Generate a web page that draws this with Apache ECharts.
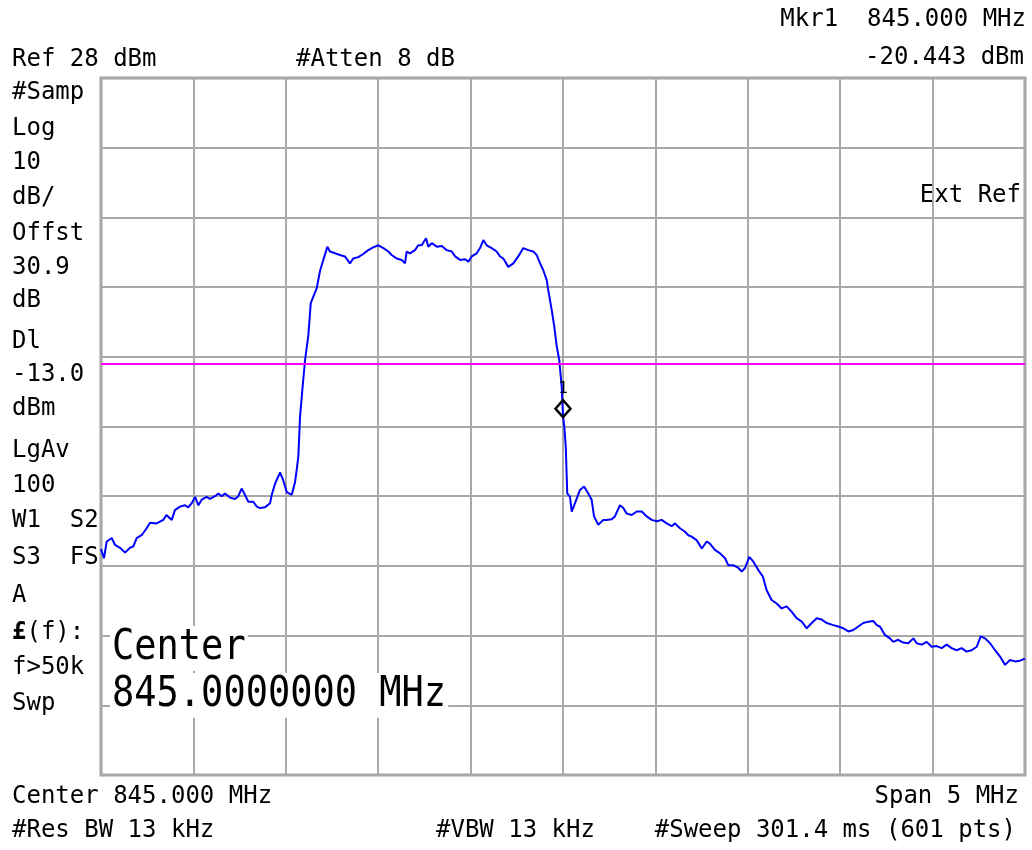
<!DOCTYPE html>
<html>
<head>
<meta charset="utf-8">
<title>Spectrum 845 MHz</title>
<script src="https://cdn.jsdelivr.net/npm/echarts@6/dist/echarts.min.js"></script>
<style>
  html, body { margin: 0; background: #fff; }
  #chart { width: 1032px; height: 850px; }
</style>
</head>
<body>
<div id="chart"></div>
<script>
// trace (MHz, dBm)
const freqMHz = [
  842.500, 842.516, 842.531, 842.558, 842.576, 842.603, 842.630, 842.657, 842.675, 842.693,
  842.720, 842.747, 842.765, 842.801, 842.837, 842.854, 842.883, 842.900, 842.927, 842.955,
  842.972, 842.991, 843.009, 843.027, 843.045, 843.072, 843.090, 843.117, 843.135, 843.153,
  843.171, 843.198, 843.225, 843.243, 843.261, 843.279, 843.297, 843.324, 843.343, 843.360,
  843.387, 843.415, 843.424, 843.442, 843.469, 843.486, 843.505, 843.532, 843.550, 843.559,
  843.568, 843.577, 843.591, 843.604, 843.622, 843.635, 843.667, 843.685, 843.703, 843.725,
  843.739, 843.766, 843.793, 843.820, 843.847, 843.865, 843.892, 843.919, 843.946, 843.973,
  844.001, 844.028, 844.055, 844.073, 844.100, 844.127, 844.145, 844.154, 844.172, 844.199,
  844.217, 844.235, 844.259, 844.271, 844.290, 844.317, 844.344, 844.371, 844.398, 844.416,
  844.443, 844.470, 844.488, 844.506, 844.533, 844.551, 844.569, 844.587, 844.614, 844.641,
  844.659, 844.677, 844.704, 844.731, 844.758, 844.785, 844.812, 844.839, 844.858, 844.876,
  844.893, 844.912, 844.920, 844.939, 844.953, 844.966, 844.980, 844.993, 845.000, 845.007,
  845.015, 845.023, 845.038, 845.047, 845.065, 845.092, 845.114, 845.137, 845.155, 845.168,
  845.191, 845.218, 845.236, 845.263, 845.281, 845.308, 845.326, 845.345, 845.372, 845.399,
  845.426, 845.453, 845.480, 845.507, 845.534, 845.561, 845.588, 845.606, 845.633, 845.660,
  845.678, 845.696, 845.723, 845.751, 845.778, 845.795, 845.822, 845.850, 845.877, 845.894,
  845.921, 845.949, 845.967, 845.985, 846.008, 846.030, 846.057, 846.081, 846.102, 846.129,
  846.156, 846.183, 846.210, 846.238, 846.264, 846.292, 846.319, 846.346, 846.373, 846.400,
  846.427, 846.463, 846.490, 846.517, 846.544, 846.571, 846.598, 846.625, 846.652, 846.679,
  846.698, 846.715, 846.742, 846.769, 846.787, 846.814, 846.841, 846.868, 846.896, 846.914,
  846.941, 846.968, 846.995, 847.022, 847.049, 847.076, 847.103, 847.130, 847.157, 847.184,
  847.211, 847.239, 847.260, 847.284, 847.311, 847.338, 847.365, 847.392, 847.419, 847.446,
  847.473, 847.500
]
const levelDbm = [
  -39.6, -40.9, -38.5, -38.0, -39.0, -39.4, -40.1, -39.4, -39.2, -38.0,
  -37.6, -36.6, -35.8, -35.9, -35.4, -34.7, -35.4, -34.0, -33.5, -33.3,
  -33.6, -33.0, -32.1, -33.3, -32.5, -32.1, -32.4, -32.0, -31.6, -32.0,
  -31.6, -32.2, -32.4, -32.0, -30.9, -31.8, -32.8, -32.8, -33.5, -33.7,
  -33.6, -33.0, -31.8, -30.2, -28.6, -29.7, -31.4, -31.8, -30.0, -28.2,
  -26.3, -20.6, -16.3, -12.5, -8.9, -4.3, -2.2, 0.3, 1.9, 3.8,
  3.1, 2.85, 2.6, 2.4, 1.4, 2.1, 2.3, 2.75, 3.3, 3.7,
  4.0, 3.6, 3.1, 2.6, 2.1, 1.9, 1.4, 3.1, 2.85, 3.3,
  4.0, 4.0, 5.0, 3.8, 4.3, 3.8, 3.9, 3.3, 3.1, 2.4,
  1.9, 2.0, 1.65, 2.4, 2.85, 3.6, 4.75, 4.0, 3.6, 3.1,
  2.4, 2.1, 0.9, 1.4, 2.4, 3.6, 3.3, 3.1, 2.6, 1.4,
  0.45, -1.0, -2.4, -5.3, -7.7, -10.5, -12.5, -16.3, -20.443, -22.0,
  -24.9, -31.6, -32.1, -34.2, -33.0, -31.1, -30.6, -31.6, -32.5, -34.9,
  -36.1, -35.4, -35.4, -35.3, -34.9, -33.3, -33.7, -34.5, -34.7, -34.2,
  -34.2, -34.9, -35.4, -35.6, -35.4, -35.9, -36.3, -35.9, -36.6, -37.1,
  -37.6, -37.8, -38.3, -39.5, -38.5, -38.8, -39.7, -40.2, -40.9, -41.9,
  -41.9, -42.3, -42.8, -42.3, -40.7, -41.4, -42.6, -43.5, -45.5, -46.9,
  -47.4, -48.1, -47.8, -48.6, -49.5, -50.0, -50.95, -50.2, -49.5, -49.7,
  -50.2, -50.5, -50.7, -50.95, -51.4, -51.2, -50.7, -50.2, -50.0, -49.9,
  -50.5, -50.7, -51.9, -52.4, -52.9, -52.6, -53.0, -53.1, -52.4, -53.1,
  -53.3, -52.9, -53.6, -53.5, -53.8, -53.3, -53.8, -54.1, -53.8, -54.3,
  -54.1, -53.6, -52.1, -52.4, -53.1, -54.1, -55.0, -56.2, -55.5, -55.7,
  -55.6, -55.3
]

const refLevel = 28
const dbPerDiv = 10
const displayLine = -13
const markerFreq = 845.0
const markerLevel = -20.443

const sideLabels = ['#Samp', 'Log', '10', 'dB/', 'Offst', '30.9', 'dB', 'Dl', '-13.0', 'dBm',
  'LgAv', '100', 'W1  S2', 'S3  FS', 'A', '{b|£}(f):', 'f>50k', 'Swp']
const sideLabelY = [93, 129, 163, 198, 234, 268, 301, 342, 375, 409,
  451, 486, 521, 558, 596, 633, 668, 704]

const FONT = '24px "DejaVu Sans Mono"'

const chartDom = document.getElementById('chart')
const chart = echarts.init(chartDom)

const trace = freqMHz.map((f, i) => [f, levelDbm[i]])

function txt(text, x, y, align) {
  return {
    type: 'text',
    x: x,
    y: y,
    style: {
      text: text,
      font: FONT,
      fill: '#000',
      align: align || 'left',
      verticalAlign: 'middle',
      rich: {b: {font: 'bold 24px "DejaVu Sans Mono"', fill: '#000'}},
    },
  }
}

const graphics = [
  txt('Ref 28 dBm', 12, 60),
  txt('#Atten 8 dB', 296, 60),
  txt('Mkr1  845.000 MHz', 1026, 20, 'right'),
  txt('-20.443 dBm', 1024, 58, 'right'),
  txt('Ext Ref', 1021, 196, 'right'),
  txt('Center 845.000 MHz', 12, 797),
  txt('Span 5 MHz', 1019, 797, 'right'),
  txt('#Res BW 13 kHz', 12, 831),
  txt('#VBW 13 kHz', 436, 831),
  txt('#Sweep 301.4 ms (601 pts)', 1016, 831, 'right'),
]
sideLabels.forEach((s, i) => graphics.push(txt(s, 12, sideLabelY[i])))

// big center frequency readout, white box behind it
;['Center', '845.0000000 MHz'].forEach((s, i) => {
  graphics.push({
    type: 'text',
    x: 110,
    y: i === 0 ? 626 : 673,
    scaleY: 1.15,
    z: 100,
    style: {
      text: s,
      font: '37px "DejaVu Sans Mono"',
      fill: '#000',
      backgroundColor: '#fff',
      padding: [1, 2, 1, 2],
      align: 'left',
      verticalAlign: 'top',
    },
  })
})

const gridLine = {show: true, lineStyle: {color: '#a8a8a8', width: 2}}

const options = {
  animation: false,
  backgroundColor: '#fff',
  grid: {
    left: 101,
    top: 78,
    width: 924,
    height: 697,
    show: true,
    borderColor: '#a0a0a0',
    borderWidth: 3,
  },
  xAxis: {
    type: 'value',
    min: 842.5,
    max: 847.5,
    interval: 0.5,
    axisLine: {show: false},
    axisTick: {show: false},
    axisLabel: {show: false},
    splitLine: gridLine,
  },
  yAxis: [
    {
      // divisions only, for the graticule
      type: 'value',
      min: 0,
      max: 10,
      interval: 1,
      axisLine: {show: false},
      axisTick: {show: false},
      axisLabel: {show: false},
      splitLine: gridLine,
    },
    {
      type: 'value',
      min: refLevel - 10 * dbPerDiv,
      max: refLevel,
      show: false,
      splitLine: {show: false},
    },
  ],
  series: [
    {
      type: 'line',
      yAxisIndex: 1,
      data: trace,
      showSymbol: false,
      symbol: 'none',
      silent: true,
      lineStyle: {color: '#0000ff', width: 2},
      markLine: {
        silent: true,
        symbol: 'none',
        label: {show: false},
        lineStyle: {color: '#ff00ff', width: 2, type: 'solid'},
        data: [{yAxis: displayLine}],
      },
      z: 3,
    },
    {
      type: 'scatter',
      yAxisIndex: 1,
      data: [[markerFreq, markerLevel]],
      symbol: 'diamond',
      symbolSize: [15, 17],
      symbolOffset: [0, -7],
      itemStyle: {color: 'rgba(0,0,0,0)', borderColor: '#000', borderWidth: 2.5, opacity: 1},
      label: {
        show: true,
        position: 'top',
        distance: 2,
        formatter: '1',
        color: '#000',
        fontSize: 16,
        fontFamily: 'DejaVu Sans Mono',
      },
      z: 5,
    },
  ],
  graphic: graphics,
}

options && chart.setOption(options)
</script>
</body>
</html>
